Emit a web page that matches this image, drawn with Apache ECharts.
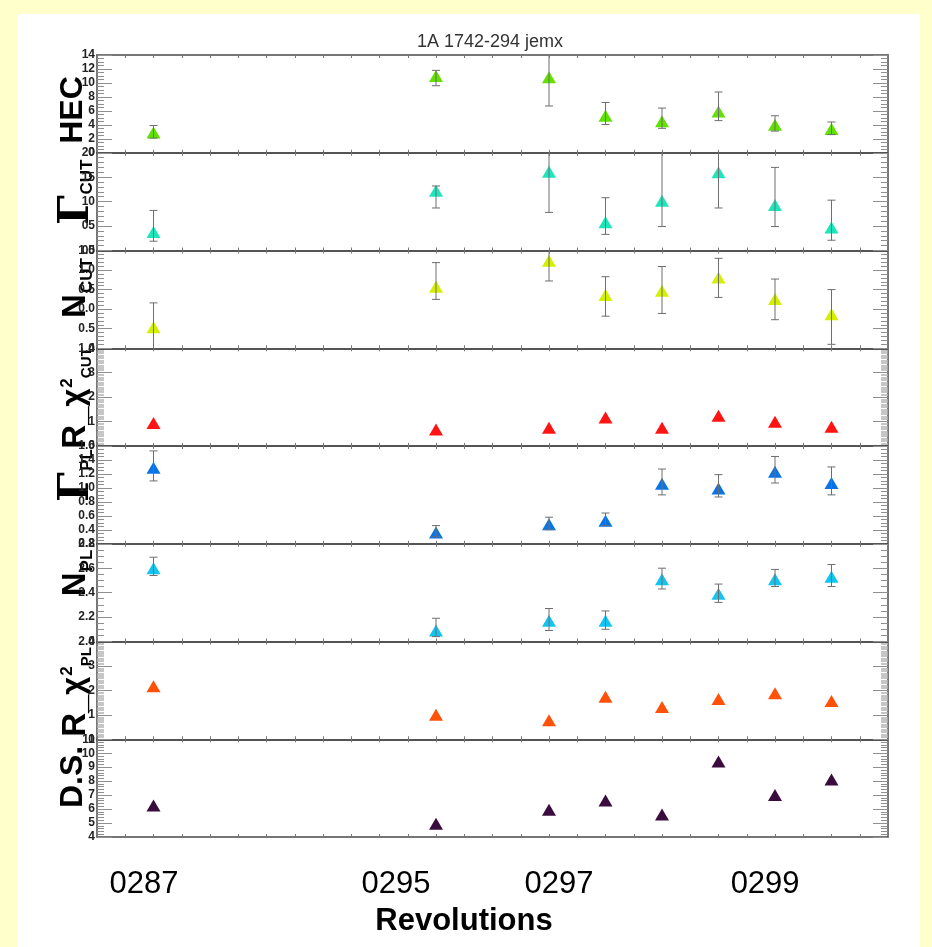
<!DOCTYPE html>
<html>
<head>
<meta charset="utf-8">
<script src="https://cdn.jsdelivr.net/npm/echarts@6/dist/echarts.min.js"></script>
<style>
html,body{margin:0;padding:0;background:#ffffcc;}
#c{width:932px;height:947px;}
</style>
</head>
<body>
<div id="c"></div>
<script>
// ---------- DATA ----------
// observation positions on the (time-like) x scale, one per revolution pointing
const xPositions = [2, 12, 16, 18, 20, 22, 24, 26];
// revolution tick labels and where they sit on that scale
const revTickValues = [1.66, 10.58, 16.35, 23.65];
const revTickLabels = ['0287', '0295', '0297', '0299'];

// HEC
const hec    = [2.9, 11.0, 10.8, 5.3, 4.5, 5.9, 4.0, 3.4];
const hecLo  = [2.1, 9.6, 6.7, 4.05, 3.5, 4.6, 3.1, 2.6];
const hecHi  = [3.9, 11.8, 15.0, 7.2, 6.4, 8.7, 5.3, 4.4];
const hecTickLabels = ['0', '2', '4', '6', '8', '10', '12', '14'];

// Gamma CUT
const gCut   = [3.8, 12.2, 16.1, 5.8, 10.2, 16.0, 9.3, 4.7];
const gCutLo = [1.9, 8.7, 7.8, 3.3, 4.9, 8.7, 4.9, 2.1];
const gCutHi = [8.2, 13.2, 21.0, 10.8, 21.0, 21.0, 17.0, 10.3];
const gCutTickLabels = ['00', '05', '10', '15', '20'];

// N CUT
const nCut   = [-0.46, 0.57, 1.24, 0.36, 0.47, 0.81, 0.26, -0.13];
const nCutLo = [-1.05, 0.25, 0.72, -0.18, -0.11, 0.30, -0.27, -0.90];
const nCutHi = [0.16, 1.19, 1.6, 0.83, 1.09, 1.30, 0.77, 0.50];
const nCutTickLabels = ['1.0', '0.5', '0.0', '0.5', '1.0', '1.5'];

// reduced chi2 CUT
const rChiCut = [0.94, 0.68, 0.75, 1.17, 0.75, 1.24, 0.99, 0.79];
const rChiCutTickLabels = ['0', '1', '2', '3', '4'];

// Gamma PL
const gPl   = [1.29, 0.36, 0.48, 0.53, 1.06, 0.99, 1.23, 1.07];
const gPlLo = [1.10, 0.30, 0.40, 0.46, 0.90, 0.87, 1.07, 0.90];
const gPlHi = [1.53, 0.46, 0.58, 0.64, 1.27, 1.19, 1.45, 1.30];
const gPlTickLabels = ['0.2', '0.4', '0.6', '0.8', '1.0', '1.2', '1.4', '1.6'];

// N PL
const nPl   = [2.60, 2.09, 2.17, 2.17, 2.51, 2.39, 2.51, 2.53];
const nPlLo = [2.54, 2.04, 2.09, 2.10, 2.43, 2.32, 2.45, 2.45];
const nPlHi = [2.69, 2.19, 2.27, 2.25, 2.60, 2.47, 2.59, 2.63];
const nPlTickLabels = ['2.0', '2.2', '2.4', '2.6', '2.8'];

// reduced chi2 PL
const rChiPl = [2.17, 1.00, 0.78, 1.74, 1.32, 1.65, 1.88, 1.57];
const rChiPlTickLabels = ['0', '1', '2', '3', '4'];

// D.S.
const ds = [6.26, 4.94, 5.95, 6.62, 5.61, 9.41, 7.0, 8.11];
const dsTickLabels = ['4', '5', '6', '7', '8', '9', '10', '11'];

// ---------- PANEL SETUP ----------
const SANS = "'Liberation Sans', Arial, Helvetica, sans-serif";
const SERIF = "'DejaVu Serif', 'Liberation Serif', serif";

const panels = [
  {values: hec, lo: hecLo, hi: hecHi, min: 0, max: 14, step: 2, minor: 4, labels: hecTickLabels, color: '#62e000'},
  {values: gCut, lo: gCutLo, hi: gCutHi, min: 0, max: 20, step: 5, minor: 5, labels: gCutTickLabels, color: '#1ee6bc'},
  {values: nCut, lo: nCutLo, hi: nCutHi, min: -1, max: 1.5, step: 0.5, minor: 5, labels: nCutTickLabels, color: '#d4f000'},
  {values: rChiCut, min: 0, max: 4, step: 1, minor: 10, labels: rChiCutTickLabels, color: '#ff1414', dense: true},
  {values: gPl, lo: gPlLo, hi: gPlHi, min: 0.2, max: 1.6, step: 0.2, minor: 4, labels: gPlTickLabels, color: '#0a74e4'},
  {values: nPl, lo: nPlLo, hi: nPlHi, min: 2.0, max: 2.8, step: 0.2, minor: 4, labels: nPlTickLabels, color: '#12c4f0'},
  {values: rChiPl, min: 0, max: 4, step: 1, minor: 10, labels: rChiPlTickLabels, color: '#ff5208', dense: true},
  {values: ds, min: 4, max: 11, step: 1, minor: 5, labels: dsTickLabels, color: '#3a0c3e'}
];

const L = 97, R = 888, TOP = 55, PH = 97.75;
const grids = [], xAxes = [], yAxes = [], series = [];

panels.forEach((p, i) => {
  grids.push({left: L, width: R - L, top: TOP + i * PH, height: PH, containLabel: false, outerBoundsMode: 'none', show: false});
  const xBase = {
    gridIndex: i, type: 'value', min: 0, max: 28, interval: 1,
    splitLine: {show: false},
    axisLine: {show: true, onZero: false, lineStyle: {color: '#4a4a4a', width: 1.5}},
    axisTick: {show: true, inside: true, length: 3, lineStyle: {color: '#777', width: 1}},
    axisLabel: {show: false}
  };
  xAxes.push(Object.assign({}, xBase, {position: 'bottom'}));
  xAxes.push(Object.assign({}, xBase, {position: 'top'}));
  const tickColor = '#8f8f8f';
  const yBase = {
    gridIndex: i, type: 'value', min: p.min, max: p.max, interval: p.step,
    splitLine: {show: false},
    axisLine: {show: true, onZero: false, lineStyle: {color: '#4a4a4a', width: 1.5}},
    axisTick: {show: true, inside: true, length: 15, lineStyle: {color: tickColor, width: 1}},
    minorTick: {show: true, splitNumber: p.minor, length: 7, lineStyle: {color: p.dense ? '#b4b4b4' : tickColor, width: p.dense ? 1.5 : 1}}
  };
  yAxes.push(Object.assign({}, yBase, {
    position: 'left',
    axisLabel: {
      show: true, margin: 2, showMinLabel: true, showMaxLabel: true, hideOverlap: false,
      fontFamily: SANS, fontWeight: 'bold', fontSize: 12, color: '#222',
      formatter: v => p.labels[Math.round((v - p.min) / p.step)]
    }
  }));
  yAxes.push(Object.assign({}, yBase, {position: 'right', axisLabel: {show: false}}));

  series.push({
    type: 'scatter', xAxisIndex: 2 * i, yAxisIndex: 2 * i,
    symbol: 'triangle', symbolSize: [14, 12], silent: true, z: 2,
    itemStyle: {color: p.color, opacity: 1},
    data: xPositions.map((x, k) => [x, p.values[k]])
  });
  if (p.lo) {
    series.push({
      type: 'custom', xAxisIndex: 2 * i, yAxisIndex: 2 * i, z: 3, silent: true,
      encode: {x: 0, y: [1, 2]},
      data: xPositions.map((x, k) => [x, p.lo[k], p.hi[k]]),
      renderItem: function (params, api) {
        const cs = params.coordSys;
        const x = api.value(0);
        const a = api.coord([x, api.value(1)]);
        const b = api.coord([x, api.value(2)]);
        const top = cs.y, bot = cs.y + cs.height;
        const clamp = y => Math.max(top, Math.min(bot, y));
        const st = {stroke: '#6e6e6e', lineWidth: 1};
        const hw = 4;
        const ch = [{type: 'line', shape: {x1: a[0], y1: clamp(a[1]), x2: b[0], y2: clamp(b[1])}, style: st}];
        [a, b].forEach(pt => {
          if (pt[1] >= top && pt[1] <= bot) ch.push({type: 'line', shape: {x1: pt[0] - hw, y1: pt[1], x2: pt[0] + hw, y2: pt[1]}, style: st});
        });
        return {type: 'group', children: ch};
      }
    });
  }
});

// revolution label axis under the last panel
xAxes.push({
  gridIndex: 7, type: 'value', min: 0, max: 28, position: 'bottom',
  splitLine: {show: false}, axisLine: {show: false}, axisTick: {show: false},
  axisLabel: {
    show: true, margin: 32, fontFamily: SANS, fontSize: 31, color: '#000',
    customValues: revTickValues,
    formatter: v => {
      let best = 0;
      revTickValues.forEach((t, k) => { if (Math.abs(t - v) < Math.abs(revTickValues[best] - v)) best = k; });
      return revTickLabels[best];
    }
  }
});

// ---------- TEXT ----------
const rich = {
  m:  {fontFamily: SANS, fontWeight: 'bold', fontSize: 33, lineHeight: 34, verticalAlign: 'top', fill: '#000'},
  h:  {fontFamily: SANS, fontWeight: 'bold', fontSize: 32, lineHeight: 34, verticalAlign: 'top', fill: '#000'},
  c:  {fontFamily: SANS, fontWeight: 'bold', fontSize: 31, lineHeight: 34, verticalAlign: 'top', fill: '#000'},
  s:  {fontFamily: SANS, fontWeight: 'bold', fontSize: 17, lineHeight: 17, verticalAlign: 'top', padding: [20, 0, 0, 1], fill: '#000'},
  sc: {fontFamily: SANS, fontWeight: 'bold', fontSize: 15, lineHeight: 15, verticalAlign: 'top', padding: [20, 0, 0, 0], fill: '#000'},
  p:  {fontFamily: SANS, fontWeight: 'bold', fontSize: 17, lineHeight: 17, verticalAlign: 'top', padding: [0, 0, 0, 1], fill: '#000'}
};

const yTitles = [
  {text: '{h|HEC}', x: 74, y: 110},
  {text: '{m|N}{s|CUT}', x: 76, y: 288},
  {text: '{m|R_}{c|χ}{p|2}{sc|CUT}', x: 76, y: 398},
  {text: '{m|N}{s|PL}', x: 76, y: 573},
  {text: '{m|R_}{c|χ}{p|2}{sc|PL}', x: 76, y: 692},
  {text: '{h|D.S.}', x: 74, y: 777}
];
// Gamma titles: big serif Gamma plus a bold subscript, as separate text pieces
const gammaTitles = [
  {sub: 'CUT', y: 210, subY: 177},
  {sub: 'PL', y: 487, subY: 460}
];

const graphics = [
  {type: 'rect', z: -10, shape: {x: 18, y: 14, width: 902, height: 933}, style: {fill: '#ffffff'}, silent: true},
  {type: 'text', x: 490, y: 42, style: {text: '1A 1742-294 jemx', fontFamily: SANS, fontSize: 18, fill: '#333', align: 'center', verticalAlign: 'middle'}},
  {type: 'text', x: 464, y: 921, style: {text: 'Revolutions', fontFamily: SANS, fontWeight: 'bold', fontSize: 31, fill: '#000', align: 'center', verticalAlign: 'middle'}}
];
yTitles.forEach(t => {
  graphics.push({type: 'text', x: t.x, y: t.y, rotation: Math.PI / 2,
    style: {text: t.text, rich: rich, align: 'center', verticalAlign: 'middle'}});
});
gammaTitles.forEach(t => {
  graphics.push({type: 'text', x: 77, y: t.y, rotation: Math.PI / 2,
    style: {text: 'Γ', font: 'bold 42px ' + SERIF, fill: '#000', align: 'center', verticalAlign: 'middle'}});
  graphics.push({type: 'text', x: 87, y: t.subY, rotation: Math.PI / 2,
    style: {text: t.sub, font: 'bold 17px ' + SANS, fill: '#000', align: 'center', verticalAlign: 'middle'}});
});

const chart = echarts.init(document.getElementById('c'), null, {renderer: 'canvas', width: 932, height: 947});
chart.setOption({
  animation: false,
  backgroundColor: 'transparent',
  grid: grids,
  xAxis: xAxes,
  yAxis: yAxes,
  series: series,
  graphic: graphics
});
</script>
</body>
</html>
